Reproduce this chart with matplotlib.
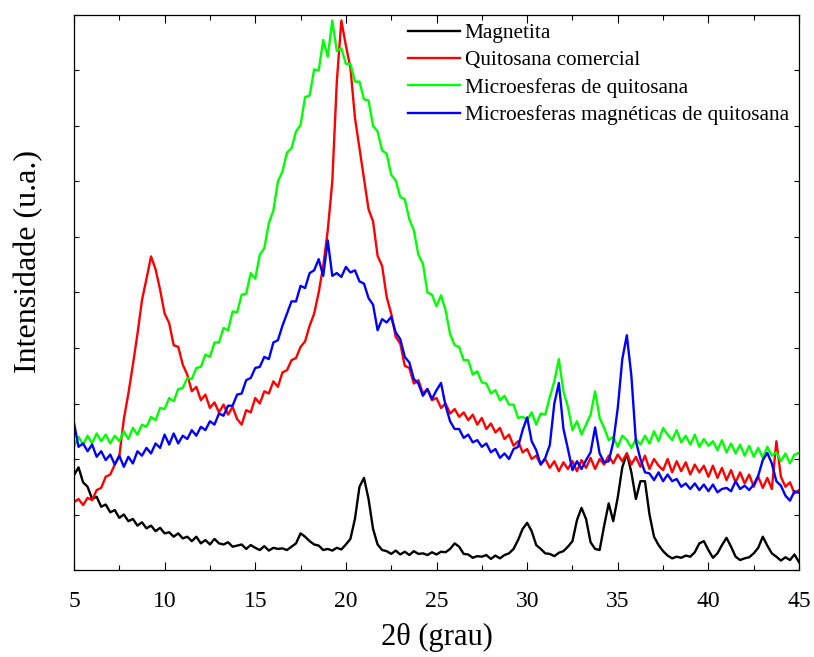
import numpy as np
import matplotlib
matplotlib.use("Agg")
import matplotlib.pyplot as plt
from matplotlib.ticker import MultipleLocator, NullFormatter

plt.rcParams["font.family"] = ["Liberation Serif", "DejaVu Serif"]

# 2theta grid, 0.25 deg step from 5 to 45
two_theta = np.linspace(5, 45, 161)

magnetita = [
    171, 185, 158, 150, 128, 132, 114, 118, 104, 108, 94, 100, 88, 92, 80, 86, 75, 80, 70, 76,
    66, 68, 60, 66, 57, 60, 52, 60, 48, 54, 46, 56, 48, 46, 50, 42, 44, 46, 38, 45,
    40, 36, 43, 35, 40, 38, 39, 36, 42, 48, 66, 60, 52, 46, 44, 36, 38, 35, 40, 37,
    46, 56, 92, 150, 166, 128, 74, 46, 36, 34, 29, 35, 28, 33, 27, 34, 29, 30, 27, 32,
    28, 33, 32, 38, 48, 42, 29, 28, 22, 25, 24, 27, 20, 26, 21, 27, 30, 38, 54, 74,
    85, 70, 45, 38, 30, 29, 25, 31, 34, 42, 52, 90, 112, 92, 50, 38, 36, 80, 120, 88,
    131, 185, 210, 176, 128, 160, 160, 100, 60, 45, 34, 26, 21, 24, 22, 26, 24, 32, 48, 52,
    36, 22, 30, 45, 58, 42, 24, 18, 21, 23, 30, 40, 60, 44, 30, 24, 17, 23, 18, 28,
    14,
]

quitosana = [
    122, 128, 117, 130, 126, 144, 148, 168, 172, 190, 205, 272, 318, 370, 425, 486, 525, 565, 542, 505,
    462, 445, 405, 402, 370, 352, 322, 330, 306, 316, 292, 302, 284, 298, 280, 294, 272, 262, 288, 284,
    310, 300, 322, 318, 340, 330, 356, 360, 378, 382, 402, 412, 440, 462, 500, 548, 612, 700, 880, 990,
    945, 905, 815, 760, 705, 650, 628, 566, 548, 492, 462, 420, 408, 368, 364, 336, 342, 318, 326, 306,
    310, 292, 300, 282, 290, 276, 284, 270, 280, 262, 274, 254, 264, 248, 256, 236, 244, 224, 232, 212,
    218, 200, 206, 190, 200, 184, 196, 178, 194, 182, 196, 178, 198, 184, 202, 182, 200, 190, 206, 192,
    208, 196, 210, 190, 204, 186, 206, 182, 200, 188, 180, 200, 176, 196, 178, 194, 172, 190, 176, 188,
    168, 188, 166, 184, 162, 180, 158, 176, 156, 172, 150, 168, 148, 166, 146, 232, 168, 150, 158, 138,
    144,
]

microesferas = [
    222, 240, 226, 242, 228, 246, 232, 244, 228, 242, 232, 250, 236, 256, 244, 262, 258, 276, 270, 292,
    290, 310, 304, 326, 328, 346, 344, 364, 366, 388, 384, 410, 410, 436, 432, 466, 464, 496, 498, 535,
    525, 568, 580, 625, 648, 700, 718, 752, 760, 790, 802, 852, 855, 902, 900, 955, 925, 990, 935, 940,
    912, 912, 880, 880, 848, 846, 800, 790, 756, 750, 712, 702, 672, 668, 632, 612, 568, 552, 500, 496,
    475, 495, 468, 425, 405, 402, 378, 378, 352, 358, 338, 336, 318, 324, 306, 314, 298, 298, 274, 276,
    270, 284, 262, 282, 280, 312, 340, 380, 322, 294, 252, 268, 244, 262, 280, 322, 274, 256, 234, 240,
    222, 242, 234, 220, 236, 226, 242, 228, 250, 232, 256, 244, 234, 252, 230, 242, 226, 244, 222, 236,
    224, 232, 216, 234, 212, 228, 210, 226, 206, 224, 204, 220, 202, 222, 206, 212, 196, 210, 192, 208,
    211,
]

microesferas_mag = [
    265, 222, 228, 214, 226, 204, 214, 198, 208, 190, 206, 186, 204, 192, 214, 206, 220, 210, 228, 220,
    244, 226, 246, 228, 242, 236, 252, 242, 258, 252, 268, 262, 282, 278, 296, 296, 316, 318, 342, 346,
    364, 366, 384, 380, 410, 414, 440, 462, 484, 484, 512, 508, 535, 540, 560, 530, 594, 530, 535, 528,
    546, 536, 540, 520, 516, 490, 478, 432, 452, 446, 456, 428, 416, 384, 374, 344, 336, 314, 326, 308,
    324, 337, 296, 268, 254, 254, 238, 244, 230, 234, 222, 228, 212, 218, 202, 210, 200, 218, 222, 252,
    275, 232, 216, 190, 202, 225, 300, 337, 255, 218, 180, 196, 182, 198, 212, 257, 210, 194, 196, 230,
    292, 380, 423, 350, 232, 200, 176, 174, 162, 176, 160, 172, 160, 164, 150, 156, 146, 156, 144, 154,
    142, 154, 140, 146, 148, 142, 160, 146, 152, 144, 154, 170, 198, 211, 192, 160, 152, 134, 125, 142,
    139,
]

labels = [
    "Magnetita",
    "Quitosana comercial",
    "Microesferas de quitosana",
    "Microesferas magnéticas de quitosana",
]
colors = ["black", "red", "#00ff00", "blue"]

fig = plt.figure(figsize=(8.14, 6.57), dpi=100)
ax = fig.add_axes([0.0909, 0.1324, 0.8907, 0.8448])

for ys, lab, col in zip([magnetita, quitosana, microesferas, microesferas_mag], labels, colors):
    ax.plot(two_theta, ys, color=col, lw=1.7, label=lab)

ax.set_xlim(5, 45)
ax.set_ylim(0, 1000)
ax.xaxis.set_major_locator(MultipleLocator(5))
ax.xaxis.set_minor_locator(MultipleLocator(2.5))
ax.yaxis.set_major_locator(MultipleLocator(100))
ax.yaxis.set_major_formatter(NullFormatter())
ax.tick_params(which="both", direction="in", top=True, right=True, width=0.8)
ax.tick_params(axis="x", which="major", length=6, labelsize=17, pad=15)
ax.tick_params(axis="x", which="minor", length=3.5)
ax.tick_params(axis="y", which="major", length=3.5)
for sp in ax.spines.values():
    sp.set_linewidth(0.9)

ax.set_xlabel("2θ (grau)", fontsize=22, labelpad=8)
ax.set_ylabel("Intensidade (u.a.)", fontsize=23)
ax.yaxis.set_label_coords(-0.043, 0.555)

ax.legend(loc="upper left", bbox_to_anchor=(0.46, 0.985), frameon=False, fontsize=15.3,
          handlelength=2.45, handletextpad=0.25, labelspacing=0.35, borderpad=0,
          borderaxespad=0)

fig.savefig("out.png", dpi=100)
